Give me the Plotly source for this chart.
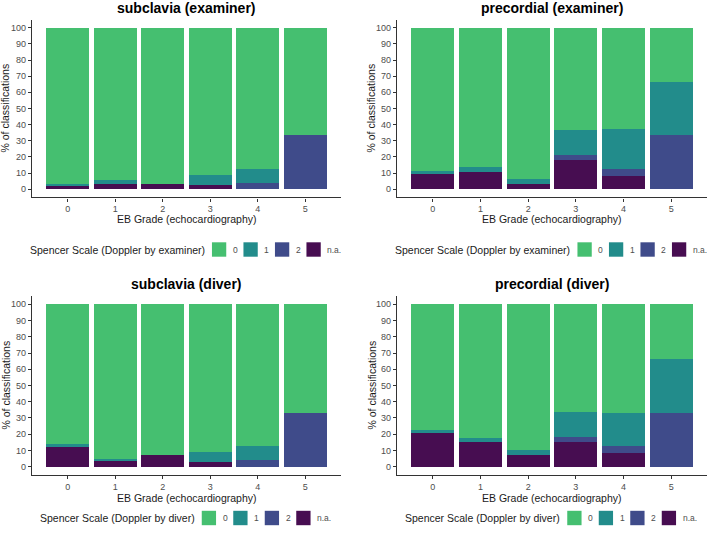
import plotly.graph_objects as go

W, H = 708, 533

grades = ["0", "1", "2", "3", "4", "5"]
categories = ["0", "1", "2", "n.a."]
colors = {"0": "#45BF70", "1": "#228C8B", "2": "#3F4B8A", "n.a.": "#470D51"}

titles = ["subclavia (examiner)", "precordial (examiner)", "subclavia (diver)", "precordial (diver)"]
legend_titles = ["Spencer Scale (Doppler by examiner)", "Spencer Scale (Doppler by examiner)",
                 "Spencer Scale (Doppler by diver)", "Spencer Scale (Doppler by diver)"]

# subclavia (examiner)
sub_ex_0 = [96.5, 94.4, 96.5, 91.1, 87.5, 66.7]
sub_ex_1 = [1.2, 2.1, 0.0, 6.0, 8.3, 0.0]
sub_ex_2 = [0.0, 0.0, 0.0, 0.0, 4.2, 33.3]
sub_ex_na = [2.3, 3.5, 3.5, 2.9, 0.0, 0.0]

# precordial (examiner)
pre_ex_0 = [88.7, 86.2, 93.4, 63.6, 62.5, 33.4]
pre_ex_1 = [2.0, 2.9, 3.1, 15.2, 25.0, 33.3]
pre_ex_2 = [0.0, 0.0, 0.0, 3.0, 4.2, 33.3]
pre_ex_na = [9.3, 10.9, 3.5, 18.2, 8.3, 0.0]

# subclavia (diver)
sub_dv_0 = [86.2, 95.1, 92.8, 91.0, 87.5, 66.7]
sub_dv_1 = [1.7, 1.4, 0.0, 6.0, 8.3, 0.0]
sub_dv_2 = [0.0, 0.0, 0.0, 0.0, 4.2, 33.3]
sub_dv_na = [12.1, 3.5, 7.2, 3.0, 0.0, 0.0]

# precordial (diver)
pre_dv_0 = [77.2, 82.5, 89.7, 66.6, 66.7, 33.4]
pre_dv_1 = [1.9, 2.1, 3.3, 15.2, 20.8, 33.3]
pre_dv_2 = [0.0, 0.0, 0.0, 3.0, 4.2, 33.3]
pre_dv_na = [20.9, 15.4, 7.0, 15.2, 8.3, 0.0]

panels_data = [
    {"0": sub_ex_0, "1": sub_ex_1, "2": sub_ex_2, "n.a.": sub_ex_na},
    {"0": pre_ex_0, "1": pre_ex_1, "2": pre_ex_2, "n.a.": pre_ex_na},
    {"0": sub_dv_0, "1": sub_dv_1, "2": sub_dv_2, "n.a.": sub_dv_na},
    {"0": pre_dv_0, "1": pre_dv_1, "2": pre_dv_2, "n.a.": pre_dv_na},
]

FONT = "Liberation Sans, Arial, sans-serif"

# pixel layout of plot areas: (left, right, top, bottom)
areas = [
    (32, 341, 19.6, 197.4),
    (397, 707, 19.6, 197.4),
    (32, 341, 296.2, 474.8),
    (397, 707, 296.2, 474.8),
]
title_y = [8, 8, 284, 284]
xtitle_y = [219.5, 219.5, 498, 498]
legend_y = [249.5, 249.5, 518, 518]
ytitle_x = [5, 371, 5, 371]
legend_title_w = [174, 174, 153.6, 153.6]


def px(x):
    return x / W


def py(y):
    return 1 - y / H


fig = go.Figure()
annotations = []
shapes = []

for i, data in enumerate(panels_data):
    k = "" if i == 0 else str(i + 1)
    xa, ya = "x" + k, "y" + k
    for cat in ["n.a.", "2", "1", "0"]:
        fig.add_trace(go.Bar(
            x=grades, y=data[cat], name=cat, xaxis=xa, yaxis=ya,
            marker=dict(color=colors[cat], line=dict(width=0)),
            width=0.9, showlegend=False,
        ))
    l, r, t, b = areas[i]
    fig.layout["xaxis" + k] = dict(
        domain=[px(l), px(r)], anchor=ya, range=[-0.75, 5.75],
        showline=True, linecolor="#333333", linewidth=1.2,
        ticks="outside", ticklen=3, tickcolor="#333333", tickwidth=1,
        tickfont=dict(family=FONT, size=9, color="#4D4D4D"),
        showgrid=False, zeroline=False, type="category", fixedrange=True,
    )
    fig.layout["yaxis" + k] = dict(
        domain=[py(b), py(t)], anchor=xa, range=[-5, 105],
        tickvals=list(range(0, 101, 10)),
        showline=True, linecolor="#333333", linewidth=1.2,
        ticks="outside", ticklen=3, tickcolor="#333333", tickwidth=1,
        tickfont=dict(family=FONT, size=9, color="#4D4D4D"),
        showgrid=False, zeroline=False, fixedrange=True,
    )
    cx = (l + r) / 2
    annotations.append(dict(
        text="<b>%s</b>" % titles[i], x=px(cx), y=py(title_y[i]), xref="paper", yref="paper",
        xanchor="center", yanchor="middle", showarrow=False,
        font=dict(family=FONT, size=14, color="#000000"),
    ))
    annotations.append(dict(
        text="EB Grade (echocardiography)", x=px(cx), y=py(xtitle_y[i]), xref="paper", yref="paper",
        xanchor="center", yanchor="middle", showarrow=False,
        font=dict(family=FONT, size=10.5, color="#1A1A1A"),
    ))
    annotations.append(dict(
        text="% of classifications", x=px(ytitle_x[i]), y=py((t + b) / 2), xref="paper", yref="paper",
        xanchor="center", yanchor="middle", showarrow=False, textangle=-90,
        font=dict(family=FONT, size=10.5, color="#1A1A1A"),
    ))
    # legend
    total = legend_title_w[i] + 6.3 + 129.4
    start = cx - total / 2
    box0 = start + legend_title_w[i] + 6.3
    ly = legend_y[i]
    annotations.append(dict(
        text=legend_titles[i], x=px(box0 - 5), y=py(ly), xref="paper", yref="paper",
        xanchor="right", yanchor="middle", showarrow=False,
        font=dict(family=FONT, size=10.5, color="#1A1A1A"),
    ))
    for j, cat in enumerate(categories):
        bx = box0 + j * 31.5
        shapes.append(dict(
            type="rect", xref="paper", yref="paper",
            x0=px(bx), x1=px(bx + 14.3), y0=py(ly + 7.2), y1=py(ly - 7.2),
            fillcolor=colors[cat], line=dict(width=0),
        ))
        annotations.append(dict(
            text=cat, x=px(bx + 14.3 + 4.5), y=py(ly), xref="paper", yref="paper",
            xanchor="left", yanchor="middle", showarrow=False,
            font=dict(family=FONT, size=8.5, color="#4D4D4D"),
        ))

fig.update_layout(
    width=W, height=H, margin=dict(l=0, r=0, t=0, b=0),
    paper_bgcolor="white", plot_bgcolor="white",
    barmode="stack", bargap=0.1,
    annotations=annotations, shapes=shapes,
    font=dict(family=FONT),
)

fig.write_html(
    "out.html",
    config={"displayModeBar": False},
    post_script="document.body.style.margin='0px';document.body.style.overflow='hidden';",
)
